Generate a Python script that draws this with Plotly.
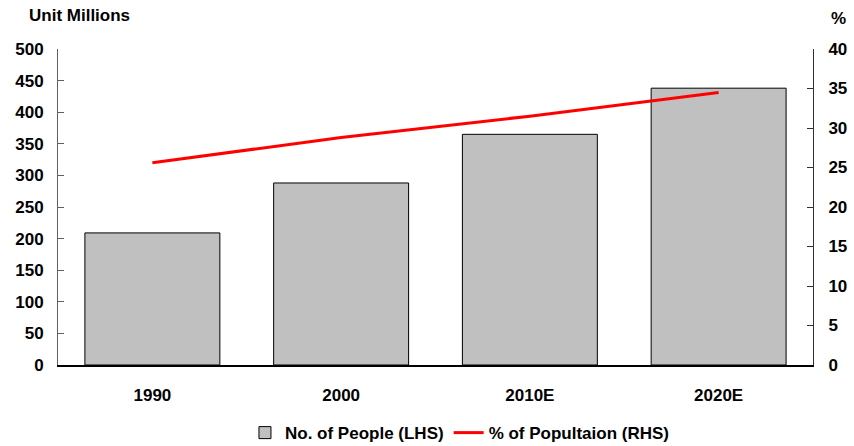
import plotly.graph_objects as go

categories = ["1990", "2000", "2010E", "2020E"]
people_millions = [209, 288, 365, 438]
pct_population = [25.6, 28.8, 31.5, 34.5]
left_ticks = [0, 50, 100, 150, 200, 250, 300, 350, 400, 450, 500]
right_ticks = [0, 5, 10, 15, 20, 25, 30, 35, 40]

FONT = "Liberation Sans, Arial, sans-serif"
fsize = 17

fig = go.Figure()
fig.add_trace(go.Bar(
    x=categories, y=people_millions, name="<b>No. of People (LHS)</b>",
    marker=dict(color="#C0C0C0", line=dict(color="#000000", width=1)),
    yaxis="y",
))
fig.add_trace(go.Scatter(
    x=categories, y=pct_population, name="<b>% of Popultaion (RHS)</b>",
    mode="lines", line=dict(color="#FF0000", width=3),
    yaxis="y2",
))

fig.update_layout(
    width=854, height=446,
    margin=dict(l=58, r=41, t=49, b=81, autoexpand=False),
    paper_bgcolor="white", plot_bgcolor="white",
    font=dict(family=FONT, size=fsize, color="#000000"),
    bargap=0.285,
    showlegend=True,
    legend=dict(orientation="h", x=0.5386, xanchor="center", xref="container",
                y=0.029, yanchor="middle", yref="container",
                font=dict(family=FONT, size=fsize, color="#000000"),
                itemwidth=30, tracegroupgap=0),
    xaxis=dict(
        type="category", showgrid=False, showline=True, linecolor="#000000", linewidth=2,
        ticks="", tickfont=dict(family=FONT, size=fsize, color="#000000"),
        tickvals=categories, ticktext=["<b>%s</b>" % c for c in categories],
        ticklabelstandoff=14, automargin=False,
    ),
    yaxis=dict(
        range=[0, 500], tickvals=left_ticks, ticktext=["<b>%d</b>" % v for v in left_ticks],
        showgrid=False, zeroline=False, showline=True, linecolor="#606060", linewidth=1,
        ticks="inside", ticklen=6, tickcolor="#606060",
        tickfont=dict(family=FONT, size=fsize, color="#000000"),
        ticklabelstandoff=10, automargin=False,
    ),
    yaxis2=dict(
        range=[0, 40], tickvals=right_ticks, ticktext=["<b>%d</b>" % v for v in right_ticks],
        overlaying="y", side="right",
        showgrid=False, zeroline=False, showline=True, linecolor="#303030", linewidth=1,
        ticks="inside", ticklen=6, tickcolor="#303030",
        tickfont=dict(family=FONT, size=fsize, color="#000000"),
        ticklabelstandoff=11, automargin=False,
    ),
    annotations=[
        dict(text="<b>Unit Millions</b>", xref="paper", yref="paper", x=-0.0397, y=1.105,
             xanchor="left", yanchor="middle", showarrow=False, borderpad=0,
             font=dict(family=FONT, size=fsize, color="#000000")),
        dict(text="<b>%</b>", xref="paper", yref="paper", x=1.0225, y=1.096,
             xanchor="left", yanchor="middle", showarrow=False, borderpad=0,
             font=dict(family=FONT, size=fsize, color="#000000")),
    ],
)

fig.write_html(
    "out.html",
    config={"displayModeBar": False},
    post_script="document.body.style.margin='0';document.body.style.overflow='hidden';",
)
